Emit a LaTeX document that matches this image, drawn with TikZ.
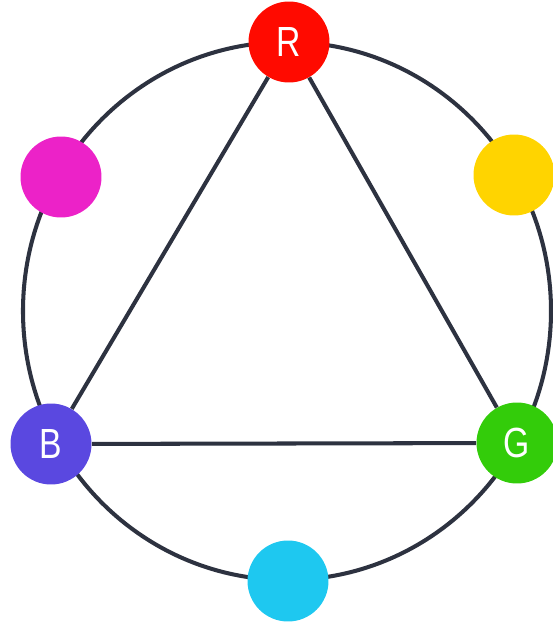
\documentclass[tikz,border=0pt]{standalone}
\usepackage{fontspec}
\usepackage{xcolor}
\newfontfamily\lblfont[FakeStretch=0.8]{Liberation Sans}
\usetikzlibrary{positioning}

\definecolor{ringline}{HTML}{2D3240}
\definecolor{dotred}{HTML}{FF0A00}
\definecolor{dotgreen}{HTML}{33CC0A}
\definecolor{dotblue}{HTML}{5A48E0}
\definecolor{dotyellow}{HTML}{FFD400}
\definecolor{dotcyan}{HTML}{1EC8F0}
\definecolor{dotmagenta}{HTML}{EC22C8}

\begin{document}
\begin{tikzpicture}[
  x=0.02cm, y=-0.02cm,
  dot/.style={circle, minimum size=1.62cm, inner sep=0pt,
              font=\lblfont\fontsize{24}{24}\selectfont, text=white},
  ring/.style={draw=ringline, line width=2.3pt},
]
\useasboundingbox (0,0) rectangle (552,622);

%% ── centre of the colour wheel ──────────────────────────────────────
\coordinate (mid) at (287,311);
\draw[ring] (mid) ellipse [x radius=264, y radius=269];

%% ── primaries on the triangle ───────────────────────────────────────
\node[dot, fill=dotred]   at (289,42)  (R) {R};
\node[dot, fill=dotblue]  at (51,444)  (B) {B};
\node[dot, fill=dotgreen] at (517,443) (G) {G};

%% ── secondaries in between ──────────────────────────────────────────
\node[dot, fill=dotmagenta] at (61,177)  (M) {};
\node[dot, fill=dotyellow]  at (514,175) (Y) {};
\node[dot, fill=dotcyan]    at (288,581) (C) {};

%% ── triangle ────────────────────────────────────────────────────────
\draw[ring] (R) -- (B);
\draw[ring] (R) -- (G);
\draw[ring] (B) -- (G);

\end{tikzpicture}
\end{document}
